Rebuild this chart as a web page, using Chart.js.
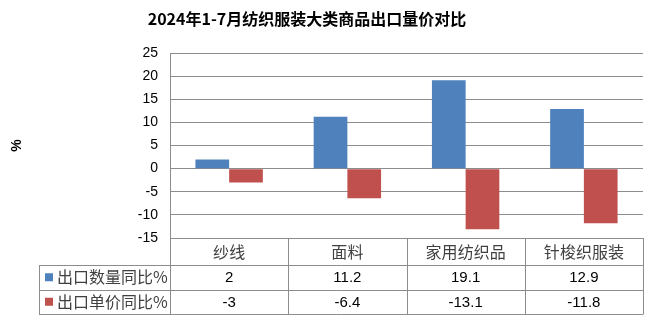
<!DOCTYPE html>
<html>
<head>
<meta charset="utf-8">
<script src="https://cdn.jsdelivr.net/npm/chart.js@4/dist/chart.umd.min.js"></script>
<style>
  html, body { margin: 0; padding: 0; background: #fff; }
  #wrap { width: 654px; height: 336px; position: relative; }
</style>
</head>
<body>
<div id="wrap"><canvas id="exportChart"></canvas></div>
<script>
// 数据
const categories = ['纱线', '面料', '家用纺织品', '针梭织服装'];
const qtyLabel = '出口数量同比%';
const priceLabel = '出口单价同比%';
const qtyYoY = [2, 11.2, 19.1, 12.9];
const priceYoY = [-3, -6.4, -13.1, -11.8];
const chartTitle = '2024年1-7月纺织服装大类商品出口量价对比';

const BLUE = '#4f81bd';
const RED = '#c0504d';
const LINE = '#8c8c8c';
const CJK = '"Noto Sans CJK SC", "Noto Sans", sans-serif';
const NUM = '"Liberation Sans", Arial, sans-serif';

// 标题 + 下方数据表（图例列 + 数值行）
const tablePlugin = {
    id: 'dataTable',
    afterDraw(chart) {
        const ctx = chart.ctx;
        const area = chart.chartArea;
        const x = chart.scales.x;
        const rows = [
            { label: qtyLabel, color: BLUE, values: qtyYoY },
            { label: priceLabel, color: RED, values: priceYoY }
        ];
        const headerBottom = area.bottom + 27;
        const rowH = 24.5;
        const tableLeft = 39;
        const tableBottom = headerBottom + rowH * rows.length;

        ctx.save();

        // 标题
        ctx.fillStyle = '#000';
        ctx.font = 'bold 16px ' + CJK;
        ctx.textAlign = 'center';
        ctx.textBaseline = 'middle';
        ctx.fillText(chartTitle, 307, 19);

        // 表格线
        ctx.strokeStyle = LINE;
        ctx.lineWidth = 1;
        ctx.beginPath();
        const bounds = [area.left];
        for (let i = 0; i < categories.length - 1; i++) {
            bounds.push((x.getPixelForValue(i) + x.getPixelForValue(i + 1)) / 2);
        }
        bounds.push(area.right);
        bounds.forEach(bx => {
            const px = Math.round(bx) + 0.5;
            ctx.moveTo(px, area.bottom);
            ctx.lineTo(px, tableBottom);
        });
        ctx.moveTo(tableLeft + 0.5, headerBottom);
        ctx.lineTo(tableLeft + 0.5, tableBottom);
        for (let r = 0; r <= rows.length; r++) {
            const py = Math.round(headerBottom + r * rowH) + 0.5;
            ctx.moveTo(tableLeft, py);
            ctx.lineTo(area.right + 0.5, py);
        }
        ctx.stroke();

        // 各行内容
        rows.forEach((row, r) => {
            const cy = headerBottom + r * rowH + rowH / 2;
            ctx.fillStyle = row.color;
            ctx.fillRect(45, cy - 4, 8, 8);
            ctx.fillStyle = '#404040';
            ctx.font = '16px ' + CJK;
            ctx.textAlign = 'left';
            ctx.fillText(row.label, 57, cy);
            ctx.fillStyle = '#000';
            ctx.font = '15px ' + NUM;
            ctx.textAlign = 'center';
            row.values.forEach((v, i) => {
                ctx.fillText(String(v), x.getPixelForValue(i), cy + 1);
            });
        });

        ctx.restore();
    }
};

new Chart(document.getElementById('exportChart'), {
    type: 'bar',
    data: {
        labels: categories,
        datasets: [
            { label: qtyLabel, data: qtyYoY, backgroundColor: BLUE },
            { label: priceLabel, data: priceYoY, backgroundColor: RED }
        ]
    },
    options: {
        responsive: true,
        maintainAspectRatio: false,
        animation: false,
        categoryPercentage: 0.57,
        barPercentage: 1.0,
        layout: { padding: { left: 0, right: 11, top: 53, bottom: 22 } },
        plugins: {
            legend: { display: false },
            title: { display: false },
            tooltip: { enabled: false }
        },
        scales: {
            x: {
                grid: { display: false, drawTicks: false, tickLength: 0 },
                border: { display: false },
                ticks: {
                    color: '#404040',
                    font: { family: CJK, size: 16 },
                    padding: 4
                },
                afterFit(scale) { scale.height = 76; }
            },
            y: {
                min: -15,
                max: 25,
                grid: { color: LINE, lineWidth: 1, drawTicks: false },
                border: { display: true, color: LINE, width: 1 },
                ticks: {
                    stepSize: 5,
                    color: '#000',
                    font: { family: NUM, size: 14 },
                    padding: 12
                },
                title: {
                    display: true,
                    text: '%',
                    color: '#000',
                    font: { family: NUM, size: 14, weight: 'bold' },
                    padding: { top: 9, bottom: 0 }
                },
                afterFit(scale) { scale.width = 170; }
            }
        }
    },
    plugins: [tablePlugin]
});
</script>
</body>
</html>
